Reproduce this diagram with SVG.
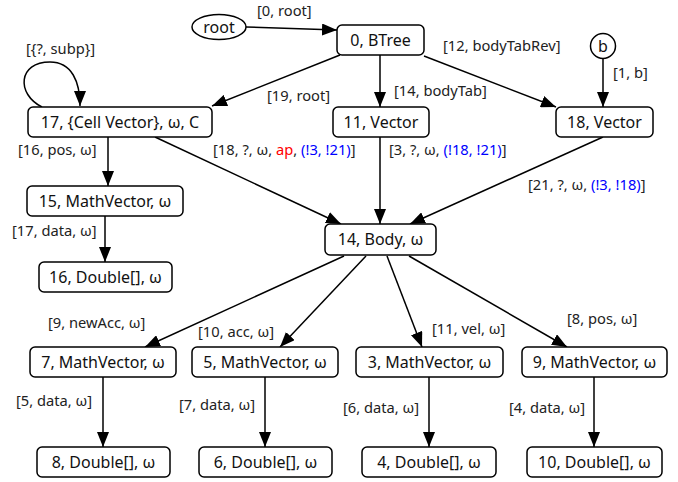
<svg xmlns="http://www.w3.org/2000/svg" width="678" height="482" viewBox="0 0 678 482">
<defs>
<marker id="arr" markerUnits="userSpaceOnUse" markerWidth="16" markerHeight="12" refX="15" refY="6" orient="auto">
<path d="M0,0 L15,6 L0,12 z" fill="#000"/>
</marker>
<style>
.box{fill:#fff;stroke:#000;stroke-width:1.5}
.nt{font-family:"Noto Sans","Open Sans",sans-serif;font-size:16px;fill:#111;text-anchor:middle}
.el{font-family:"Noto Sans","Open Sans",sans-serif;font-size:14.7px;fill:#222}
.e{fill:none;stroke:#000;stroke-width:1.5;marker-end:url(#arr)}
.r{fill:#ff0000}
.b{fill:#0000ff}
</style>
</defs>
<rect width="678" height="482" fill="#fff"/>
<g id="edges">
<line class="e" x1="246" y1="27" x2="337" y2="30"/>
<line class="e" x1="340" y1="55" x2="212" y2="106"/>
<line class="e" x1="380" y1="55" x2="380" y2="107"/>
<line class="e" x1="424" y1="56" x2="556" y2="107"/>
<line class="e" x1="603" y1="59" x2="603" y2="107"/>
<path class="e" d="M42,107 C16,94 18,62 50,62 C72,62 80,82 80,106"/>
<line class="e" x1="108" y1="137" x2="108" y2="186"/>
<line class="e" x1="155" y1="137" x2="341" y2="224"/>
<line class="e" x1="380" y1="137" x2="380" y2="224"/>
<line class="e" x1="603" y1="137" x2="410" y2="224"/>
<line class="e" x1="105" y1="216" x2="105" y2="262"/>
<line class="e" x1="344" y1="256" x2="145" y2="347"/>
<line class="e" x1="366" y1="256" x2="280" y2="347"/>
<line class="e" x1="387" y1="256" x2="422" y2="347"/>
<line class="e" x1="409" y1="256" x2="567" y2="347"/>
<line class="e" x1="103" y1="377" x2="103" y2="447"/>
<line class="e" x1="265" y1="377" x2="265" y2="447"/>
<line class="e" x1="429" y1="377" x2="429" y2="447"/>
<line class="e" x1="594" y1="377" x2="594" y2="447"/>
<text class="el" x="257" y="16">[0, root]</text>
<text class="el" x="26" y="54">[{?, subp}]</text>
<text class="el" x="267" y="101">[19, root]</text>
<text class="el" x="394" y="96">[14, bodyTab]</text>
<text class="el" x="443" y="51">[12, bodyTabRev]</text>
<text class="el" x="613" y="78">[1, b]</text>
<text class="el" x="18" y="155">[16, pos, ω]</text>
<text class="el" x="213" y="155">[18, ?, ω, <tspan class="r">ap</tspan>, <tspan class="b">(!3, !21)</tspan>]</text>
<text class="el" x="389" y="155">[3, ?, ω, <tspan class="b">(!18, !21)</tspan>]</text>
<text class="el" x="528" y="190">[21, ?, ω, <tspan class="b">(!3, !18)</tspan>]</text>
<text class="el" x="12" y="236">[17, data, ω]</text>
<text class="el" x="48" y="328">[9, newAcc, ω]</text>
<text class="el" x="198" y="337">[10, acc, ω]</text>
<text class="el" x="432" y="334">[11, vel, ω]</text>
<text class="el" x="567" y="324">[8, pos, ω]</text>
<text class="el" x="16" y="406">[5, data, ω]</text>
<text class="el" x="179" y="410">[7, data, ω]</text>
<text class="el" x="343" y="413">[6, data, ω]</text>
<text class="el" x="509" y="413">[4, data, ω]</text>
</g>
<g id="n_root"><ellipse class="box" cx="219" cy="27" rx="27" ry="12.5"/><text class="nt" x="219" y="33">root</text></g>
<g id="n0"><rect class="box" x="337" y="25" width="87" height="30" rx="5"/><text class="nt" x="380.5" y="46">0, BTree</text></g>
<g id="n_b"><circle class="box" cx="603" cy="46" r="12.5"/><text class="nt" x="603" y="52">b</text></g>
<g id="n17"><rect class="box" x="28" y="107" width="184" height="30" rx="5"/><text class="nt" x="120" y="128">17, {Cell Vector}, ω, C</text></g>
<g id="n11"><rect class="box" x="333" y="107" width="96" height="30" rx="5"/><text class="nt" x="381" y="128">11, Vector</text></g>
<g id="n18"><rect class="box" x="556" y="107" width="97" height="30" rx="5"/><text class="nt" x="604.5" y="128">18, Vector</text></g>
<g id="n15"><rect class="box" x="27" y="186" width="156" height="30" rx="5"/><text class="nt" x="105" y="207">15, MathVector, ω</text></g>
<g id="n16"><rect class="box" x="39" y="262" width="133" height="30" rx="5"/><text class="nt" x="105.5" y="283">16, Double[], ω</text></g>
<g id="n14"><rect class="box" x="325" y="224" width="111" height="31" rx="5"/><text class="nt" x="380.5" y="245">14, Body, ω</text></g>
<g id="n7"><rect class="box" x="30" y="347" width="146" height="30" rx="5"/><text class="nt" x="103" y="368">7, MathVector, ω</text></g>
<g id="n5"><rect class="box" x="192" y="347" width="146" height="30" rx="5"/><text class="nt" x="265" y="368">5, MathVector, ω</text></g>
<g id="n3"><rect class="box" x="356" y="347" width="147" height="30" rx="5"/><text class="nt" x="429.5" y="368">3, MathVector, ω</text></g>
<g id="n9"><rect class="box" x="522" y="347" width="145" height="30" rx="5"/><text class="nt" x="594.5" y="368">9, MathVector, ω</text></g>
<g id="n8"><rect class="box" x="37" y="447" width="133" height="30" rx="5"/><text class="nt" x="103.5" y="468">8, Double[], ω</text></g>
<g id="n6"><rect class="box" x="199" y="447" width="133" height="30" rx="5"/><text class="nt" x="265.5" y="468">6, Double[], ω</text></g>
<g id="n4"><rect class="box" x="362" y="447" width="134" height="30" rx="5"/><text class="nt" x="429" y="468">4, Double[], ω</text></g>
<g id="n10"><rect class="box" x="527" y="447" width="135" height="30" rx="5"/><text class="nt" x="594.5" y="468">10, Double[], ω</text></g>
</svg>
